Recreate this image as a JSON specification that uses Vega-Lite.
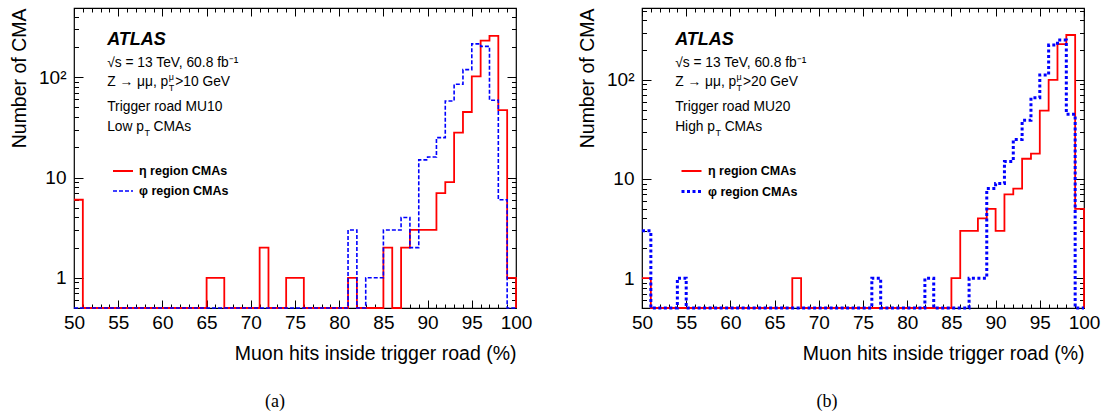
{
  "$schema": "https://vega.github.io/schema/vega-lite/v6.json",
  "padding": {"left": 8, "top": 0, "right": 0, "bottom": 0},
  "background": "white",
  "bounds": "flush",
  "spacing": 126,
  "datasets": {
    "hist": [
      {"p":"a","x":50,"eta":6,"phi":0},{"p":"a","x":51,"eta":0,"phi":0},{"p":"a","x":52,"eta":0,"phi":0},{"p":"a","x":53,"eta":0,"phi":0},{"p":"a","x":54,"eta":0,"phi":0},{"p":"a","x":55,"eta":0,"phi":0},{"p":"a","x":56,"eta":0,"phi":0},{"p":"a","x":57,"eta":0,"phi":0},{"p":"a","x":58,"eta":0,"phi":0},{"p":"a","x":59,"eta":0,"phi":0},
      {"p":"a","x":60,"eta":0,"phi":0},{"p":"a","x":61,"eta":0,"phi":0},{"p":"a","x":62,"eta":0,"phi":0},{"p":"a","x":63,"eta":0,"phi":0},{"p":"a","x":64,"eta":0,"phi":0},{"p":"a","x":65,"eta":1,"phi":0},{"p":"a","x":66,"eta":1,"phi":0},{"p":"a","x":67,"eta":0,"phi":0},{"p":"a","x":68,"eta":0,"phi":0},{"p":"a","x":69,"eta":0,"phi":0},
      {"p":"a","x":70,"eta":0,"phi":0},{"p":"a","x":71,"eta":2,"phi":0},{"p":"a","x":72,"eta":0,"phi":0},{"p":"a","x":73,"eta":0,"phi":0},{"p":"a","x":74,"eta":1,"phi":0},{"p":"a","x":75,"eta":1,"phi":0},{"p":"a","x":76,"eta":0,"phi":0},{"p":"a","x":77,"eta":0,"phi":0},{"p":"a","x":78,"eta":0,"phi":0},{"p":"a","x":79,"eta":0,"phi":0},
      {"p":"a","x":80,"eta":0,"phi":0},{"p":"a","x":81,"eta":1,"phi":3},{"p":"a","x":82,"eta":0,"phi":0},{"p":"a","x":83,"eta":0,"phi":1},{"p":"a","x":84,"eta":0,"phi":1},{"p":"a","x":85,"eta":2,"phi":3},{"p":"a","x":86,"eta":0,"phi":3},{"p":"a","x":87,"eta":2,"phi":4},{"p":"a","x":88,"eta":3,"phi":2},{"p":"a","x":89,"eta":3,"phi":15},
      {"p":"a","x":90,"eta":3,"phi":16},{"p":"a","x":91,"eta":7,"phi":25},{"p":"a","x":92,"eta":9,"phi":58},{"p":"a","x":93,"eta":28,"phi":85},{"p":"a","x":94,"eta":45,"phi":119},{"p":"a","x":95,"eta":102,"phi":215},{"p":"a","x":96,"eta":232,"phi":203},{"p":"a","x":97,"eta":258,"phi":59},{"p":"a","x":98,"eta":47,"phi":6},{"p":"a","x":99,"eta":1,"phi":0},
      {"p":"a","x":100,"eta":0,"phi":0},
      {"p":"b","x":50,"eta":1,"phi":3},{"p":"b","x":51,"eta":0,"phi":0},{"p":"b","x":52,"eta":0,"phi":0},{"p":"b","x":53,"eta":0,"phi":0},{"p":"b","x":54,"eta":0,"phi":1},{"p":"b","x":55,"eta":0,"phi":0},{"p":"b","x":56,"eta":0,"phi":0},{"p":"b","x":57,"eta":0,"phi":0},{"p":"b","x":58,"eta":0,"phi":0},{"p":"b","x":59,"eta":0,"phi":0},
      {"p":"b","x":60,"eta":0,"phi":0},{"p":"b","x":61,"eta":0,"phi":0},{"p":"b","x":62,"eta":0,"phi":0},{"p":"b","x":63,"eta":0,"phi":0},{"p":"b","x":64,"eta":0,"phi":0},{"p":"b","x":65,"eta":0,"phi":0},{"p":"b","x":66,"eta":0,"phi":0},{"p":"b","x":67,"eta":1,"phi":0},{"p":"b","x":68,"eta":0,"phi":0},{"p":"b","x":69,"eta":0,"phi":0},
      {"p":"b","x":70,"eta":0,"phi":0},{"p":"b","x":71,"eta":0,"phi":0},{"p":"b","x":72,"eta":0,"phi":0},{"p":"b","x":73,"eta":0,"phi":0},{"p":"b","x":74,"eta":0,"phi":0},{"p":"b","x":75,"eta":0,"phi":0},{"p":"b","x":76,"eta":0,"phi":1},{"p":"b","x":77,"eta":0,"phi":0},{"p":"b","x":78,"eta":0,"phi":0},{"p":"b","x":79,"eta":0,"phi":0},
      {"p":"b","x":80,"eta":0,"phi":0},{"p":"b","x":81,"eta":0,"phi":0},{"p":"b","x":82,"eta":0,"phi":1},{"p":"b","x":83,"eta":0,"phi":0},{"p":"b","x":84,"eta":0,"phi":0},{"p":"b","x":85,"eta":1,"phi":0},{"p":"b","x":86,"eta":3,"phi":0},{"p":"b","x":87,"eta":3,"phi":1},{"p":"b","x":88,"eta":4,"phi":1},{"p":"b","x":89,"eta":5,"phi":8},
      {"p":"b","x":90,"eta":3,"phi":9},{"p":"b","x":91,"eta":7,"phi":15},{"p":"b","x":92,"eta":8,"phi":25},{"p":"b","x":93,"eta":16,"phi":39},{"p":"b","x":94,"eta":18,"phi":66},{"p":"b","x":95,"eta":49,"phi":112},{"p":"b","x":96,"eta":100,"phi":224},{"p":"b","x":97,"eta":229,"phi":252},{"p":"b","x":98,"eta":283,"phi":45},{"p":"b","x":99,"eta":5,"phi":0},
      {"p":"b","x":100,"eta":0,"phi":0}
    ],
    "atlas": [
      {"p":"a","x":53.75,"y":209,"t":"ATLAS"},
      {"p":"b","x":53.75,"y":224,"t":"ATLAS"}
    ],
    "notes": [
      {"p":"a","x":53.75,"y":126,"t":"√s = 13 TeV, 60.8 fb⁻¹"},
      {"p":"a","x":53.75,"y":81.7,"t":"Z → μμ, p"},
      {"p":"a","x":61.45,"y":81.7,"t":">10 GeV"},
      {"p":"a","x":53.75,"y":46,"t":"Trigger road MU10"},
      {"p":"a","x":53.75,"y":29.1,"t":"Low p"},
      {"p":"a","x":59.0,"y":29.1,"t":"CMAs"},
      {"p":"b","x":53.75,"y":134.6,"t":"√s = 13 TeV, 60.8 fb⁻¹"},
      {"p":"b","x":53.75,"y":86.5,"t":"Z → μμ, p"},
      {"p":"b","x":61.43,"y":86.5,"t":">20 GeV"},
      {"p":"b","x":53.75,"y":48.4,"t":"Trigger road MU20"},
      {"p":"b","x":53.75,"y":30.5,"t":"High p"},
      {"p":"b","x":59.35,"y":30.5,"t":"CMAs"}
    ],
    "sup": [
      {"p":"a","x":60.72,"y":81.7,"t":"μ"},
      {"p":"b","x":60.7,"y":86.5,"t":"μ"}
    ],
    "sub": [
      {"p":"a","x":60.72,"y":81.7,"t":"T"},
      {"p":"a","x":57.97,"y":29.1,"t":"T"},
      {"p":"b","x":60.7,"y":86.5,"t":"T"},
      {"p":"b","x":58.31,"y":30.5,"t":"T"}
    ]
  },
  "hconcat": [
    {
      "width": 442,
      "height": 300,
      "title": {"text": "(a)", "orient": "bottom", "offset": 30, "font": "Liberation Serif", "fontSize": 18, "fontWeight": "normal", "color": "black", "anchor": "middle", "dx": -20},
      "resolve": {"axis": {"x": "independent", "y": "independent"}},
      "layer": [
        {
          "data": {"name": "hist"},
          "transform": [{"filter": "datum.p == 'a'"}, {"fold": ["eta", "phi"], "as": ["series", "count"]}],
          "mark": {"type": "line", "interpolate": "step-after", "invalid": null, "clip": false},
          "encoding": {
            "x": {"field": "x", "type": "quantitative", "scale": {"domain": [50, 100], "nice": false, "zero": false},
              "axis": {"orient": "bottom", "values": [50,51,52,53,54,55,56,57,58,59,60,61,62,63,64,65,66,67,68,69,70,71,72,73,74,75,76,77,78,79,80,81,82,83,84,85,86,87,88,89,90,91,92,93,94,95,96,97,98,99,100],
                "labelExpr": "datum.value % 5 == 0 ? datum.label : ''",
                "tickSize": {"condition": {"test": "datum.value % 5 == 0", "value": -8}, "value": -4},
                "labelPadding": 13, "title": "Muon hits inside trigger road (%)", "titleAnchor": "end", "titlePadding": 8}},
            "y": {"field": "count", "type": "quantitative", "scale": {"type": "log", "domain": [0.5, 490], "nice": false, "clamp": true},
              "axis": {"orient": "left", "values": [0.6,0.7,0.8,0.9,1,2,3,4,5,6,7,8,9,10,20,30,40,50,60,70,80,90,100,200,300,400],
                "labelExpr": "datum.value == 1 ? '1' : datum.value == 10 ? '10' : datum.value == 100 ? '10²' : ''",
                "tickSize": {"condition": {"test": "datum.value == 1 || datum.value == 10 || datum.value == 100", "value": -9}, "value": -4.5},
                "labelPadding": 17, "title": "Number of CMA", "titleAnchor": "end", "titlePadding": 9}},
            "color": {"field": "series", "type": "nominal", "scale": {"domain": ["eta", "phi"], "range": ["#ff0000", "#0000ff"]},
              "legend": {"orient": "none", "legendX": 38, "legendY": 152, "title": null, "symbolType": "stroke", "symbolSize": 400, "symbolStrokeWidth": 2,
                "labelFont": "Liberation Sans", "labelFontWeight": "bold", "labelFontSize": 12.5, "labelColor": "black", "labelOffset": 5, "padding": 0,
                "labelExpr": "datum.value == 'eta' ? 'η region CMAs' : 'φ region CMAs'"}},
            "strokeDash": {"field": "series", "type": "nominal", "scale": {"domain": ["eta", "phi"], "range": [[1, 0], [4, 2]]},
              "legend": {"orient": "none", "legendX": 38, "legendY": 152, "title": null, "symbolType": "stroke", "symbolSize": 400, "symbolStrokeWidth": 2,
                "labelFont": "Liberation Sans", "labelFontWeight": "bold", "labelFontSize": 12.5, "labelColor": "black", "labelOffset": 5, "padding": 0,
                "labelExpr": "datum.value == 'eta' ? 'η region CMAs' : 'φ region CMAs'"}},
            "strokeWidth": {"field": "series", "type": "nominal", "scale": {"domain": ["eta", "phi"], "range": [1.8, 1.6]}, "legend": null}
          }
        },
        {
          "data": {"name": "atlas"},
          "transform": [{"filter": "datum.p == 'a'"}],
          "mark": {"type": "text", "align": "left", "baseline": "alphabetic", "fontSize": 18, "fontWeight": "bold", "fontStyle": "italic", "color": "black"},
          "encoding": {
            "x": {"field": "x", "type": "quantitative",
              "axis": {"orient": "top", "values": [50,51,52,53,54,55,56,57,58,59,60,61,62,63,64,65,66,67,68,69,70,71,72,73,74,75,76,77,78,79,80,81,82,83,84,85,86,87,88,89,90,91,92,93,94,95,96,97,98,99,100],
                "labels": false, "title": null,
                "tickSize": {"condition": {"test": "datum.value % 5 == 0", "value": -8}, "value": -4}}},
            "y": {"field": "y", "type": "quantitative",
              "axis": {"orient": "right", "values": [0.6,0.7,0.8,0.9,1,2,3,4,5,6,7,8,9,10,20,30,40,50,60,70,80,90,100,200,300,400],
                "labels": false, "title": null,
                "tickSize": {"condition": {"test": "datum.value == 1 || datum.value == 10 || datum.value == 100", "value": -9}, "value": -4.5}}},
            "text": {"field": "t"}
          }
        },
        {
          "data": {"name": "notes"},
          "transform": [{"filter": "datum.p == 'a'"}],
          "mark": {"type": "text", "align": "left", "baseline": "alphabetic", "fontSize": 13.8, "color": "black"},
          "encoding": {
            "x": {"field": "x", "type": "quantitative", "axis": null},
            "y": {"field": "y", "type": "quantitative", "axis": null},
            "text": {"field": "t"}
          }
        },
        {
          "data": {"name": "sup"},
          "transform": [{"filter": "datum.p == 'a'"}],
          "mark": {"type": "text", "align": "left", "baseline": "alphabetic", "fontSize": 9, "dy": -6, "color": "black"},
          "encoding": {
            "x": {"field": "x", "type": "quantitative", "axis": null},
            "y": {"field": "y", "type": "quantitative", "axis": null},
            "text": {"field": "t"}
          }
        },
        {
          "data": {"name": "sub"},
          "transform": [{"filter": "datum.p == 'a'"}],
          "mark": {"type": "text", "align": "left", "baseline": "alphabetic", "fontSize": 9, "dy": 5, "color": "black"},
          "encoding": {
            "x": {"field": "x", "type": "quantitative", "axis": null},
            "y": {"field": "y", "type": "quantitative", "axis": null},
            "text": {"field": "t"}
          }
        }
      ]
    },
    {
      "width": 442,
      "height": 300,
      "title": {"text": "(b)", "orient": "bottom", "offset": 30, "font": "Liberation Serif", "fontSize": 18, "fontWeight": "normal", "color": "black", "anchor": "middle", "dx": -36},
      "resolve": {"axis": {"x": "independent", "y": "independent"}},
      "layer": [
        {
          "data": {"name": "hist"},
          "transform": [{"filter": "datum.p == 'b'"}, {"fold": ["eta", "phi"], "as": ["series", "count"]}],
          "mark": {"type": "line", "interpolate": "step-after", "invalid": null, "clip": false},
          "encoding": {
            "x": {"field": "x", "type": "quantitative", "scale": {"domain": [50, 100], "nice": false, "zero": false},
              "axis": {"orient": "bottom", "values": [50,51,52,53,54,55,56,57,58,59,60,61,62,63,64,65,66,67,68,69,70,71,72,73,74,75,76,77,78,79,80,81,82,83,84,85,86,87,88,89,90,91,92,93,94,95,96,97,98,99,100],
                "labelExpr": "datum.value % 5 == 0 ? datum.label : ''",
                "tickSize": {"condition": {"test": "datum.value % 5 == 0", "value": -8}, "value": -4},
                "labelPadding": 13, "title": "Muon hits inside trigger road (%)", "titleAnchor": "end", "titlePadding": 8}},
            "y": {"field": "count", "type": "quantitative", "scale": {"type": "log", "domain": [0.5, 530], "nice": false, "clamp": true},
              "axis": {"orient": "left", "values": [0.6,0.7,0.8,0.9,1,2,3,4,5,6,7,8,9,10,20,30,40,50,60,70,80,90,100,200,300,400,500],
                "labelExpr": "datum.value == 1 ? '1' : datum.value == 10 ? '10' : datum.value == 100 ? '10²' : ''",
                "tickSize": {"condition": {"test": "datum.value == 1 || datum.value == 10 || datum.value == 100", "value": -9}, "value": -4.5},
                "labelPadding": 17, "title": "Number of CMA", "titleAnchor": "end", "titlePadding": 9}},
            "color": {"field": "series", "type": "nominal", "scale": {"domain": ["eta", "phi"], "range": ["#ff0000", "#0000ff"]},
              "legend": {"orient": "none", "legendX": 38, "legendY": 152, "title": null, "symbolType": "stroke", "symbolSize": 400, "symbolStrokeWidth": 2,
                "labelFont": "Liberation Sans", "labelFontWeight": "bold", "labelFontSize": 12.5, "labelColor": "black", "labelOffset": 5, "padding": 0,
                "labelExpr": "datum.value == 'eta' ? 'η region CMAs' : 'φ region CMAs'"}},
            "strokeDash": {"field": "series", "type": "nominal", "scale": {"domain": ["eta", "phi"], "range": [[1, 0], [3, 2.5]]},
              "legend": {"orient": "none", "legendX": 38, "legendY": 152, "title": null, "symbolType": "stroke", "symbolSize": 400, "symbolStrokeWidth": 2,
                "labelFont": "Liberation Sans", "labelFontWeight": "bold", "labelFontSize": 12.5, "labelColor": "black", "labelOffset": 5, "padding": 0,
                "labelExpr": "datum.value == 'eta' ? 'η region CMAs' : 'φ region CMAs'"}},
            "strokeWidth": {"field": "series", "type": "nominal", "scale": {"domain": ["eta", "phi"], "range": [1.8, 3]}, "legend": null}
          }
        },
        {
          "data": {"name": "atlas"},
          "transform": [{"filter": "datum.p == 'b'"}],
          "mark": {"type": "text", "align": "left", "baseline": "alphabetic", "fontSize": 18, "fontWeight": "bold", "fontStyle": "italic", "color": "black"},
          "encoding": {
            "x": {"field": "x", "type": "quantitative",
              "axis": {"orient": "top", "values": [50,51,52,53,54,55,56,57,58,59,60,61,62,63,64,65,66,67,68,69,70,71,72,73,74,75,76,77,78,79,80,81,82,83,84,85,86,87,88,89,90,91,92,93,94,95,96,97,98,99,100],
                "labels": false, "title": null,
                "tickSize": {"condition": {"test": "datum.value % 5 == 0", "value": -8}, "value": -4}}},
            "y": {"field": "y", "type": "quantitative",
              "axis": {"orient": "right", "values": [0.6,0.7,0.8,0.9,1,2,3,4,5,6,7,8,9,10,20,30,40,50,60,70,80,90,100,200,300,400,500],
                "labels": false, "title": null,
                "tickSize": {"condition": {"test": "datum.value == 1 || datum.value == 10 || datum.value == 100", "value": -9}, "value": -4.5}}},
            "text": {"field": "t"}
          }
        },
        {
          "data": {"name": "notes"},
          "transform": [{"filter": "datum.p == 'b'"}],
          "mark": {"type": "text", "align": "left", "baseline": "alphabetic", "fontSize": 13.8, "color": "black"},
          "encoding": {
            "x": {"field": "x", "type": "quantitative", "axis": null},
            "y": {"field": "y", "type": "quantitative", "axis": null},
            "text": {"field": "t"}
          }
        },
        {
          "data": {"name": "sup"},
          "transform": [{"filter": "datum.p == 'b'"}],
          "mark": {"type": "text", "align": "left", "baseline": "alphabetic", "fontSize": 9, "dy": -6, "color": "black"},
          "encoding": {
            "x": {"field": "x", "type": "quantitative", "axis": null},
            "y": {"field": "y", "type": "quantitative", "axis": null},
            "text": {"field": "t"}
          }
        },
        {
          "data": {"name": "sub"},
          "transform": [{"filter": "datum.p == 'b'"}],
          "mark": {"type": "text", "align": "left", "baseline": "alphabetic", "fontSize": 9, "dy": 5, "color": "black"},
          "encoding": {
            "x": {"field": "x", "type": "quantitative", "axis": null},
            "y": {"field": "y", "type": "quantitative", "axis": null},
            "text": {"field": "t"}
          }
        }
      ]
    }
  ],
  "resolve": {"scale": {"color": "independent", "strokeDash": "independent", "strokeWidth": "independent"}},
  "config": {
    "font": "Liberation Sans",
    "view": {"stroke": "black", "strokeWidth": 1.2},
    "axis": {"domain": false, "grid": false, "tickColor": "black", "tickWidth": 1, "labelColor": "black", "titleColor": "black",
      "labelFont": "Liberation Sans", "titleFont": "Liberation Sans", "labelFontSize": 19, "titleFontSize": 19.5, "titleFontWeight": "normal",
      "labelOverlap": false, "labelFlush": false}
  }
}
